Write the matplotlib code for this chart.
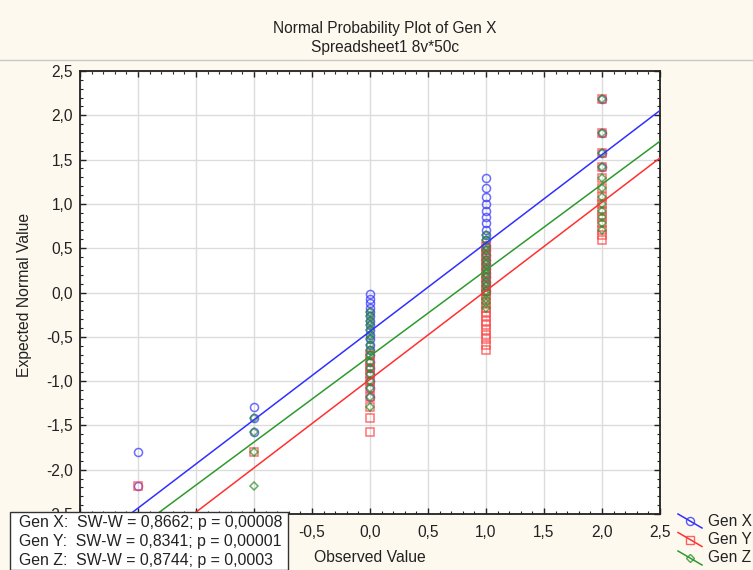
import numpy as np
import matplotlib
import matplotlib.pyplot as plt
from matplotlib.lines import Line2D
from matplotlib.patches import Rectangle
from matplotlib.transforms import Bbox
from matplotlib.ticker import MultipleLocator, FuncFormatter

matplotlib.use('Agg')

plt.rcParams['font.family'] = ['Liberation Sans', 'DejaVu Sans']

# expected normal values for the 50 ranks
expected = [-2.18, -1.80, -1.57, -1.42, -1.29, -1.18, -1.08, -1.00, -0.92, -0.85,
            -0.78, -0.71, -0.65, -0.59, -0.53, -0.48, -0.42, -0.37, -0.32, -0.27,
            -0.22, -0.17, -0.12, -0.07, -0.02, 0.02, 0.07, 0.12, 0.17, 0.22,
            0.27, 0.32, 0.37, 0.42, 0.48, 0.53, 0.59, 0.65, 0.71, 0.78,
            0.85, 0.92, 1.00, 1.08, 1.18, 1.29, 1.42, 1.57, 1.80, 2.18]

levels = [-2, -1, 0, 1, 2]
gen_x_counts = [2, 3, 20, 21, 4]
gen_y_counts = [1, 1, 10, 24, 14]
gen_z_counts = [0, 4, 17, 17, 12]

series_names = ['Gen X', 'Gen Y', 'Gen Z']
sw_text = ['Gen X:  SW-W = 0,8662; p = 0,00008',
           'Gen Y:  SW-W = 0,8341; p = 0,00001',
           'Gen Z:  SW-W = 0,8744; p = 0,0003']

styles = [
    dict(color='#3333ff', marker='o', ms=5.8, line='#3030ff'),
    dict(color='#ff3c3c', marker='s', ms=5.3, line='#ff3030'),
    dict(color='#2a902a', marker='D', ms=3.8, line='#2e9a2e'),
]

W, H = 753, 570
fig = plt.figure(figsize=(W / 100, H / 100), dpi=100, facecolor='#fdf9ef')
ax = fig.add_axes([80 / W, 1 - 514 / H, 580 / W, 443 / H])
ax.set_facecolor('white')

xs_line = np.array([-2.5, 2.5])
for counts, st in zip([gen_x_counts, gen_y_counts, gen_z_counts], styles):
    obs = np.repeat(levels, counts)
    ax.plot(obs, expected, linestyle='none', marker=st['marker'], ms=st['ms'],
            mfc='none', mec=st['color'], mew=1.1, alpha=0.72, zorder=3)
    b, a = np.polyfit(obs, expected, 1)
    ax.plot(xs_line, a + b * xs_line, color=st['line'], lw=1.1, zorder=4)

ax.set_xlim(-2.5, 2.5)
ax.set_ylim(-2.5, 2.5)
ax.xaxis.set_major_locator(MultipleLocator(0.5))
ax.yaxis.set_major_locator(MultipleLocator(0.5))
ax.xaxis.set_minor_locator(MultipleLocator(0.1))
ax.yaxis.set_minor_locator(MultipleLocator(0.1))


def comma(v, _):
    return f"{round(v, 1) + 0.0:.1f}".replace('.', ',')


# x labels left of -0,5 sit under the statistics box
ax.xaxis.set_major_formatter(FuncFormatter(lambda v, p: comma(v, p) if v > -0.75 else ''))
ax.yaxis.set_major_formatter(FuncFormatter(comma))
ax.tick_params(which='both', direction='in', top=True, right=True, colors='#222222',
               labelsize=11.2, labelcolor='#222222')
ax.tick_params(which='major', length=4, width=1)
ax.tick_params(which='minor', length=2.5, width=0.8)
ax.tick_params(axis='x', pad=8)
ax.tick_params(axis='y', pad=5)
ax.grid(True, which='major', color='#dcdcdc', lw=1)
ax.set_axisbelow(True)
for sp in ax.spines.values():
    sp.set_color('#222222')
    sp.set_linewidth(1.3)

# title block
fig.text(385 / W, 1 - 29 / H, 'Normal Probability Plot of Gen X', ha='center', va='center',
         fontsize=11.2, color='#222222')
fig.text(385 / W, 1 - 47.5 / H, 'Spreadsheet1 8v*50c', ha='center', va='center',
         fontsize=11.2, color='#222222')
fig.add_artist(Line2D([0, 1], [1 - 60 / H, 1 - 60 / H], color='#c8c8c8', lw=1))

fig.text(25 / W, 1 - 295 / H, 'Expected Normal Value', rotation=90, ha='center', va='center',
         fontsize=11.3, color='#222222')
fig.text(370 / W, 1 - 557 / H, 'Observed Value', ha='center', va='center',
         fontsize=11.3, color='#222222')

# Shapiro-Wilk box
fig.add_artist(Rectangle((10 / W, 0), 278 / W, (H - 512) / H, facecolor='white',
                         edgecolor='#333333', lw=1, zorder=5))
for i, t in enumerate(sw_text):
    fig.text(19 / W, 1 - (523 + 18.5 * i) / H, t, ha='left', va='center',
             fontsize=11.4, color='#222222', zorder=6)

# legend with diagonal handles
for i, (name, st) in enumerate(zip(series_names, styles)):
    yc = 521 + 18.5 * i
    fig.add_artist(Line2D([678 / W, 702 / W], [1 - (yc - 7) / H, 1 - (yc + 7) / H],
                          color=st['line'], lw=1.1))
    fig.add_artist(Line2D([690 / W], [1 - yc / H], marker=st['marker'], ms=st['ms'],
                          mfc='none', mec=st['color'], mew=1.0, alpha=0.8, linestyle='none'))
    fig.text(708 / W, 1 - yc / H, name, ha='left', va='center', fontsize=11.2, color='#222222')

# the -2,5 label is cut off by the top edge of the box
fig.canvas.draw()
for lab in ax.get_yticklabels():
    if lab.get_text() == '-2,5':
        lab.set_clip_box(Bbox.from_extents(0, H - 512, W, H))
        lab.set_clip_on(True)

fig.savefig('out.png', dpi=100, facecolor=fig.get_facecolor())
